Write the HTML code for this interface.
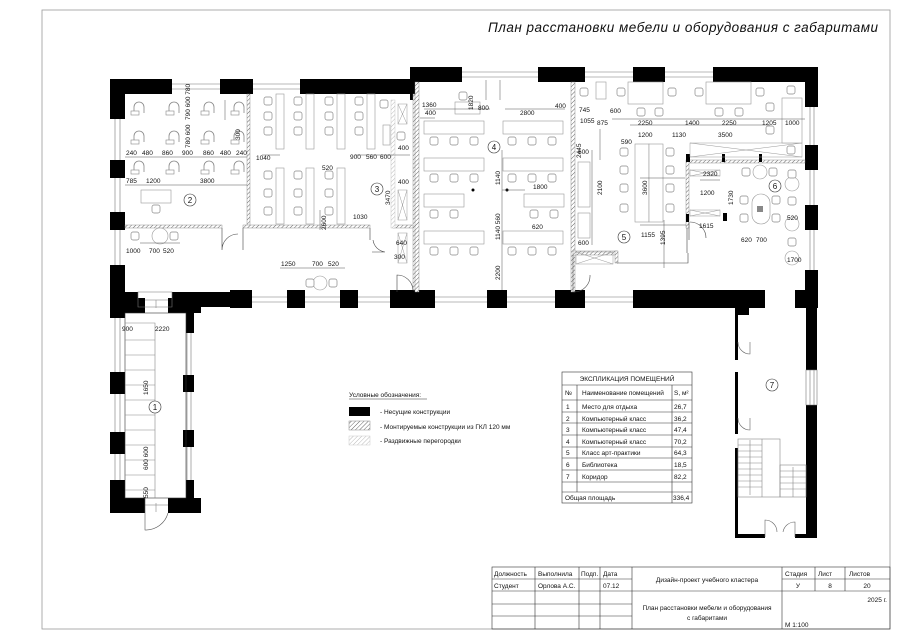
<!DOCTYPE html>
<html><head><meta charset="utf-8"><style>
html,body{margin:0;padding:0;background:#fff}
svg{display:block}
text{font-family:"Liberation Sans","DejaVu Sans",sans-serif;fill:#111}
.d{font-size:6.5px}
.t{font-size:6.5px}
</style></head><body>
<svg width="900" height="638" viewBox="0 0 900 638" xmlns="http://www.w3.org/2000/svg">
<defs>
<pattern id="h" width="3" height="3" patternUnits="userSpaceOnUse" patternTransform="rotate(45)">
<rect width="3" height="3" fill="#fff"/><line x1="0" y1="0" x2="0" y2="3" stroke="#666" stroke-width="1"/></pattern>
<pattern id="h2" width="3" height="3" patternUnits="userSpaceOnUse" patternTransform="rotate(45)">
<rect width="3" height="3" fill="#fff"/><line x1="0" y1="0" x2="0" y2="3" stroke="#bbb" stroke-width="1"/></pattern>
<g id="ch"><rect x="0" y="0" width="8" height="8" rx="2" fill="#fff" stroke="#888" stroke-width="0.7"/></g>
<g id="ac"><path d="M1 10 V4 A5 5 0 0 1 11 4 V10" fill="none" stroke="#888" stroke-width="0.8"/><rect x="-2" y="8" width="8" height="4" fill="#fff" stroke="#888" stroke-width="0.6"/></g>
</defs>

<rect x="42" y="10" width="848" height="619" fill="none" stroke="#999" stroke-width="0.8"/>
<text x="488" y="32" style="font-size:13.5px;font-style:italic" textLength="390">План расстановки мебели и оборудования с габаритами</text>

<g fill="#000">
<rect x="110" y="79" width="62" height="15"/>
<rect x="220" y="79" width="33" height="15"/>
<rect x="300" y="79" width="118" height="15"/>
<rect x="410" y="67" width="52" height="15"/>
<rect x="410" y="67" width="9" height="33"/>
<rect x="538" y="67" width="47" height="15"/>
<rect x="633" y="67" width="32" height="15"/>
<rect x="713" y="67" width="105" height="15"/>
<rect x="805" y="67" width="13" height="40"/>
<rect x="805" y="145" width="13" height="25"/>
<rect x="805" y="205" width="13" height="25"/>
<rect x="805" y="270" width="13" height="37"/>
<rect x="110" y="79" width="15" height="40"/>
<rect x="110" y="160" width="15" height="18"/>
<rect x="110" y="212" width="15" height="18"/>
<rect x="110" y="265" width="15" height="48"/>
<rect x="110" y="292" width="28" height="15"/>
<rect x="172" y="292" width="80" height="15"/>
<rect x="230" y="290" width="22" height="18"/>
<rect x="287" y="290" width="18" height="18"/>
<rect x="340" y="290" width="18" height="18"/>
<rect x="390" y="290" width="45" height="18"/>
<rect x="487" y="290" width="20" height="18"/>
<rect x="555" y="290" width="30" height="18"/>
<rect x="633" y="290" width="132" height="18"/>
<rect x="795" y="290" width="23" height="18"/>
<rect x="110" y="298" width="35" height="15"/>
<rect x="168" y="298" width="33" height="15"/>
<rect x="110" y="298" width="15" height="20"/>
<rect x="110" y="372" width="15" height="22"/>
<rect x="110" y="432" width="15" height="22"/>
<rect x="110" y="480" width="15" height="33"/>
<rect x="186" y="313" width="8" height="20"/>
<rect x="183" y="375" width="11" height="17"/>
<rect x="183" y="430" width="11" height="17"/>
<rect x="186" y="480" width="8" height="20"/>
<rect x="110" y="498" width="35" height="15"/>
<rect x="168" y="498" width="33" height="15"/>
<rect x="735" y="305" width="14" height="10"/>
<rect x="735" y="305" width="3" height="55"/>
<rect x="735" y="372" width="3" height="62"/>
<rect x="735" y="448" width="3" height="90"/>
<rect x="806" y="305" width="11" height="65"/>
<rect x="806" y="405" width="11" height="133"/>
<rect x="735" y="534" width="30" height="4"/>
<rect x="795" y="534" width="22" height="4"/>
</g>
<g stroke="#777" stroke-width="0.6" fill="none">
<path d="M172 84H220M172 89H220M253 84H300M253 89H300"/>
<path d="M462 72H538M462 77H538M585 72H633M585 77H633M665 72H713M665 77H713"/>
<path d="M810 107V145M814 107V145M810 170V205M814 170V205M810 230V270M814 230V270"/>
<path d="M115 119V160M120 119V160M115 178V212M120 178V212M115 230V265M120 230V265"/>
<path d="M252 297H287M252 302H287M305 297H340M305 302H340M358 297H390M358 302H390M435 297H487M435 302H487M507 297H555M507 302H555M585 297H633M585 302H633"/>
<path d="M115 318V372M120 318V372M115 394V432M120 394V432M115 454V480M120 454V480"/>
<path d="M187 333V375M191 333V375M187 392V430M191 392V430M187 447V480M191 447V480"/>
<path d="M806 370H817V405H806ZM810 370V405M814 370V405"/>
<path d="M138 292H172V307H138Z M145 300H168 M145 505H168"/>
</g>
<g stroke="#888" stroke-width="0.6" fill="none">
<rect x="125" y="313" width="61" height="185" stroke="#333"/>
<path d="M125 323H155V498M125 340H155M125 355H155M125 370H155M125 385H155M125 400H155M125 415H155M125 430H155M125 445H155M125 460H155M125 475H155M125 490H155"/>
<path d="M145 498V530A23 23 0 0 0 168 513" stroke="#555"/>
<path d="M156 300V308M156 503V512"/>
</g>
<g stroke="#888" stroke-width="0.6" fill="none">
<rect x="738" y="439" width="42" height="58"/>
<rect x="780" y="465" width="26" height="32"/>
<path d="M738 445H762M738 451H762M738 457H762M738 463H762M738 469H762M738 475H762M738 481H762M738 487H762M762 439V497M780 471H806M780 477H806M780 483H806M780 489H806M750 440V495M793 467V497"/>
<path d="M738 342A12 12 0 0 0 750 354V342M738 418A12 12 0 0 0 750 430V418M765 537V520A12 12 0 0 1 777 532M795 537V522A12 12 0 0 0 783 532" stroke="#666"/>
</g>

<g fill="url(#h)" stroke="#777" stroke-width="0.4">
<rect x="247" y="94" width="3" height="132"/>
<rect x="125" y="225" width="97" height="3"/>
<rect x="243" y="225" width="127" height="3"/>
<rect x="413" y="94" width="4" height="196"/>
<rect x="415" y="82" width="4" height="210"/>
<rect x="571" y="82" width="4" height="210"/>
<rect x="573" y="251" width="44" height="4"/>
<rect x="615" y="251" width="3" height="12"/>
<rect x="687" y="160" width="118" height="3"/>
<rect x="686" y="160" width="3" height="68"/>
<rect x="393" y="225" width="20" height="3"/>
</g>
<g fill="url(#h2)" stroke="#bbb" stroke-width="0.4">
<rect x="391" y="100" width="4" height="128"/>
</g>
<g fill="#000"><rect x="686" y="154" width="4" height="8"/><rect x="722" y="154" width="3" height="8"/><rect x="759" y="154" width="3" height="8"/><rect x="686" y="214" width="3" height="8"/><rect x="723" y="213" width="4" height="8"/></g>
<g stroke="#444" stroke-width="0.6" fill="none">
<path d="M617 263H688V253M687 228V253"/>
<path d="M222 228V250A16 16 0 0 1 238 234M243 228V250M370 228V240M373 240A14 14 0 0 0 385 252M372 252H385"/>
<path d="M397 292V275A16 16 0 0 1 413 290M573 255V292M574 292A16 16 0 0 0 590 275"/>
<path d="M689 222V240M690 222A16 16 0 0 1 706 238"/>
</g>
<g stroke="#999" stroke-width="0.5" fill="none">
<rect x="398" y="104" width="9" height="20"/><path d="M398 104L407 124M407 104L398 124"/>
<rect x="398" y="190" width="9" height="30"/><path d="M398 190L407 220M407 190L398 220"/>
<rect x="398" y="233" width="9" height="30"/><path d="M398 233L407 263M407 233L398 263"/>
<rect x="576" y="252" width="37" height="12"/><path d="M576 252L613 264M613 252L576 264"/>
<rect x="690" y="143" width="112" height="14"/><path d="M690 143L802 157M802 143L690 157"/>
<rect x="690" y="170" width="30" height="6"/><path d="M690 170L720 176M720 170L690 176"/>
<rect x="690" y="210" width="30" height="6"/><path d="M690 210L720 216M720 210L690 216"/>
</g>

<g>
<use href="#ac" x="133" y="103"/><use href="#ac" x="168" y="103"/><use href="#ac" x="203" y="103"/><use href="#ac" x="233" y="103"/>
<use href="#ac" x="133" y="132"/><use href="#ac" x="168" y="132"/><use href="#ac" x="203" y="132"/><use href="#ac" x="233" y="132"/>
<use href="#ac" x="133" y="162"/><use href="#ac" x="168" y="162"/><use href="#ac" x="203" y="162"/><use href="#ac" x="233" y="162"/>
</g>
<g fill="#fff" stroke="#999" stroke-width="0.6">
<rect x="141" y="190" width="30" height="13"/>
<rect x="276" y="94" width="8" height="55"/><rect x="306" y="94" width="8" height="55"/><rect x="337" y="94" width="8" height="55"/><rect x="367" y="94" width="8" height="55"/>
<rect x="276" y="168" width="8" height="56"/><rect x="306" y="168" width="8" height="56"/><rect x="337" y="168" width="8" height="56"/>
<rect x="383" y="125" width="7" height="20"/>
<rect x="455" y="102" width="25" height="12"/>
<rect x="424" y="121" width="60" height="13"/><rect x="503" y="121" width="60" height="13"/>
<rect x="424" y="158" width="60" height="13"/><rect x="503" y="158" width="60" height="13"/>
<rect x="424" y="194" width="40" height="13"/><rect x="524" y="194" width="40" height="13"/>
<rect x="424" y="231" width="60" height="13"/><rect x="503" y="231" width="60" height="13"/>
<rect x="578" y="162" width="12" height="45"/><rect x="578" y="213" width="12" height="25"/>
<rect x="596" y="82" width="10" height="17"/>
<rect x="628" y="82" width="35" height="22"/><rect x="706" y="82" width="45" height="22"/>
<rect x="635" y="144" width="14" height="78"/><rect x="649" y="144" width="14" height="78"/>
<rect x="782" y="98" width="20" height="45"/>
<rect x="752" y="194" width="18" height="30" rx="9"/>
</g>
<rect x="757" y="206" width="6" height="6" fill="#888"/>
<g fill="#fff" stroke="#999" stroke-width="0.6">
<circle cx="760" cy="172" r="7"/><circle cx="792" cy="184" r="7"/><circle cx="792" cy="224" r="7"/><circle cx="792" cy="258" r="7"/>
<circle cx="160" cy="236" r="8"/><circle cx="320" cy="283" r="7"/>
</g>
<g>
<use href="#ch" x="131" y="232"/><use href="#ch" x="170" y="232"/>
<use href="#ch" x="306" y="279"/><use href="#ch" x="329" y="279"/>
<use href="#ch" x="152" y="205"/>
<use href="#ch" x="264" y="97"/><use href="#ch" x="264" y="112"/><use href="#ch" x="264" y="127"/>
<use href="#ch" x="294" y="97"/><use href="#ch" x="294" y="112"/><use href="#ch" x="294" y="127"/>
<use href="#ch" x="325" y="97"/><use href="#ch" x="325" y="112"/><use href="#ch" x="325" y="127"/>
<use href="#ch" x="355" y="97"/><use href="#ch" x="355" y="112"/><use href="#ch" x="355" y="127"/>
<use href="#ch" x="264" y="171"/><use href="#ch" x="264" y="189"/><use href="#ch" x="264" y="207"/>
<use href="#ch" x="294" y="171"/><use href="#ch" x="294" y="189"/><use href="#ch" x="294" y="207"/>
<use href="#ch" x="325" y="171"/><use href="#ch" x="325" y="189"/><use href="#ch" x="325" y="207"/>
<use href="#ch" x="380" y="100"/><use href="#ch" x="397" y="132"/>
<use href="#ch" x="459" y="92"/>
<use href="#ch" x="430" y="137"/><use href="#ch" x="450" y="137"/><use href="#ch" x="470" y="137"/><use href="#ch" x="508" y="137"/><use href="#ch" x="528" y="137"/><use href="#ch" x="548" y="137"/>
<use href="#ch" x="430" y="174"/><use href="#ch" x="450" y="174"/><use href="#ch" x="470" y="174"/><use href="#ch" x="508" y="174"/><use href="#ch" x="528" y="174"/><use href="#ch" x="548" y="174"/>
<use href="#ch" x="430" y="210"/><use href="#ch" x="450" y="210"/><use href="#ch" x="530" y="210"/><use href="#ch" x="550" y="210"/>
<use href="#ch" x="430" y="247"/><use href="#ch" x="450" y="247"/><use href="#ch" x="470" y="247"/><use href="#ch" x="508" y="247"/><use href="#ch" x="528" y="247"/><use href="#ch" x="548" y="247"/>
<use href="#ch" x="580" y="88"/><use href="#ch" x="617" y="88"/><use href="#ch" x="668" y="88"/><use href="#ch" x="695" y="88"/><use href="#ch" x="756" y="88"/><use href="#ch" x="787" y="86"/>
<use href="#ch" x="637" y="108"/><use href="#ch" x="655" y="108"/><use href="#ch" x="715" y="108"/><use href="#ch" x="735" y="108"/>
<use href="#ch" x="766" y="103"/><use href="#ch" x="766" y="126"/><use href="#ch" x="787" y="146"/>
<use href="#ch" x="620" y="148"/><use href="#ch" x="620" y="166"/><use href="#ch" x="620" y="184"/><use href="#ch" x="620" y="204"/>
<use href="#ch" x="666" y="148"/><use href="#ch" x="666" y="166"/><use href="#ch" x="666" y="184"/><use href="#ch" x="666" y="204"/>
<use href="#ch" x="742" y="168"/><use href="#ch" x="769" y="168"/>
<use href="#ch" x="740" y="196"/><use href="#ch" x="740" y="214"/><use href="#ch" x="772" y="196"/><use href="#ch" x="772" y="214"/>
<use href="#ch" x="788" y="170"/><use href="#ch" x="788" y="197"/><use href="#ch" x="788" y="238"/>
</g>
<g fill="#000"><circle cx="473" cy="190" r="1.5"/><circle cx="507" cy="190" r="1.5"/></g>

<g stroke="#555" stroke-width="0.5" fill="none">
<path d="M125 157H247M125 185H247M262 155H280M355 155H410M320 210V230M140 243H180M280 268H345M612 119H805M630 125H770M600 129V160M640 178H685M640 225H686M592 150V245M664 220V268M700 180H720"/>
<path d="M424 109H490M505 109H565M420 118H435M486 80V100M500 80V100"/>
<path d="M502 190H525M502 150V290M225 100V120"/>
</g>
<g class="d">
<text x="126" y="155">240</text><text x="142" y="155">480</text><text x="162" y="155">860</text><text x="182" y="155">900</text><text x="203" y="155">860</text><text x="220" y="155">480</text><text x="236" y="155">240</text>
<text x="126" y="183">785</text><text x="146" y="183">1200</text><text x="200" y="183">3800</text>
<text x="126" y="253">1000</text><text x="149" y="253">700</text><text x="163" y="253">520</text>
<text x="256" y="160">1040</text><text x="350" y="159">900</text><text x="366" y="159">560</text><text x="380" y="159">600</text>
<text x="322" y="170">520</text><text x="353" y="219">1030</text><text x="281" y="266">1250</text><text x="312" y="266">700</text><text x="328" y="266">520</text>
<text x="398" y="150">400</text><text x="398" y="184">400</text><text x="396" y="245">640</text><text x="394" y="259">300</text>
<text x="422" y="107">1360</text><text x="425" y="115">400</text><text x="478" y="110">800</text><text x="520" y="115">2800</text><text x="555" y="108">400</text>
<text x="533" y="189">1800</text><text x="532" y="229">620</text>
<text x="579" y="112">745</text><text x="580" y="123">1055</text><text x="610" y="113">600</text>
<text x="597" y="125">875</text><text x="638" y="125">2250</text><text x="685" y="125">1400</text><text x="722" y="125">2250</text><text x="762" y="125">1205</text><text x="785" y="125">1000</text>
<text x="638" y="137">1200</text><text x="672" y="137">1130</text><text x="718" y="137">3500</text>
<text x="578" y="154">600</text><text x="578" y="245">600</text><text x="621" y="144">590</text>
<text x="641" y="237">1155</text><text x="703" y="176">2320</text><text x="700" y="195">1200</text><text x="699" y="228">1615</text>
<text x="741" y="242">620</text><text x="756" y="242">700</text><text x="787" y="220">520</text><text x="787" y="262">1700</text>
<text x="122" y="331">900</text><text x="155" y="331">2220</text>
</g>
<g class="d">
<text transform="translate(190 120) rotate(-90)">790 600 780</text>
<text transform="translate(190 148) rotate(-90)">780 600</text>
<text transform="translate(326 230) rotate(-90)">2600</text>
<text transform="translate(390 205) rotate(-90)">3470</text>
<text transform="translate(473 110) rotate(-90)">1820</text>
<text transform="translate(500 280) rotate(-90)">2200</text>
<text transform="translate(500 185) rotate(-90)">1140</text>
<text transform="translate(500 240) rotate(-90)">1140 560</text>
<text transform="translate(647 195) rotate(-90)">3600</text>
<text transform="translate(602 195) rotate(-90)">2100</text>
<text transform="translate(665 245) rotate(-90)">1395</text>
<text transform="translate(733 205) rotate(-90)">1730</text>
<text transform="translate(148 395) rotate(-90)">1650</text>
<text transform="translate(148 470) rotate(-90)">600 600</text>
<text transform="translate(148 498) rotate(-90)">550</text>
<text transform="translate(240 140) rotate(-90)">300</text>
<text transform="translate(581 158) rotate(-90)">2445</text>
</g>
<g fill="#fff" stroke="#333" stroke-width="0.6">
<circle cx="190" cy="200" r="6"/><circle cx="377" cy="189" r="6"/><circle cx="494" cy="147" r="6"/><circle cx="624" cy="237" r="6"/><circle cx="775" cy="186" r="6"/><circle cx="155" cy="407" r="6"/><circle cx="772" cy="385" r="6"/>
</g>
<g style="font-size:8px" text-anchor="middle">
<text x="190" y="203">2</text><text x="377" y="192">3</text><text x="494" y="150">4</text><text x="624" y="240">5</text><text x="775" y="189">6</text><text x="155" y="410">1</text><text x="772" y="388">7</text>
</g>

<text x="349" y="397" class="t">Условные обозначения:</text>
<line x1="349" y1="399" x2="427" y2="399" stroke="#333" stroke-width="0.5"/>
<rect x="349" y="407" width="21" height="9" fill="#000"/>
<rect x="349" y="421" width="21" height="9" fill="url(#h)" stroke="#888" stroke-width="0.5"/>
<rect x="349" y="436" width="21" height="9" fill="url(#h2)" stroke="#ccc" stroke-width="0.5"/>
<text x="380" y="414" class="t">- Несущие конструкции</text>
<text x="380" y="429" class="t">- Монтируемые конструкции из ГКЛ 120 мм</text>
<text x="380" y="443" class="t">- Раздвижные перегородки</text>

<g stroke="#333" stroke-width="0.6" fill="none">
<rect x="562" y="372" width="130" height="131"/>
<path d="M562 385H692M562 400H692M562 412H692M562 423H692M562 435H692M562 447H692M562 458H692M562 470H692M562 482H692M562 492H692"/>
<path d="M577 385V492M672 385V503"/>
</g>
<g class="t">
<text x="627" y="381" text-anchor="middle">ЭКСПЛИКАЦИЯ ПОМЕЩЕНИЙ</text>
<text x="565" y="395">№</text><text x="582" y="395">Наименование помещений</text><text x="674" y="395">S, м²</text>
<text x="566" y="409">1</text><text x="582" y="409">Место для отдыха</text><text x="674" y="409">26,7</text>
<text x="566" y="421">2</text><text x="582" y="421">Компьютерный класс</text><text x="674" y="421">36,2</text>
<text x="566" y="432">3</text><text x="582" y="432">Компьютерный класс</text><text x="674" y="432">47,4</text>
<text x="566" y="444">4</text><text x="582" y="444">Компьютерный класс</text><text x="674" y="444">70,2</text>
<text x="566" y="455">5</text><text x="582" y="455">Класс арт-практики</text><text x="674" y="455">64,3</text>
<text x="566" y="467">6</text><text x="582" y="467">Библиотека</text><text x="674" y="467">18,5</text>
<text x="566" y="479">7</text><text x="582" y="479">Коридор</text><text x="674" y="479">82,2</text>
<text x="565" y="500">Общая площадь</text><text x="673" y="500">336,4</text>
</g>

<g stroke="#333" stroke-width="0.6" fill="none">
<rect x="492" y="567" width="398" height="62"/>
<path d="M535 567V629M579 567V629M600 567V629M632 567V629M782 567V629M815 567V591M845 567V591"/>
<path d="M492 579H632M492 591H890M492 604H632M492 616H632M782 579H890M632 591H782"/>
</g>
<g class="t">
<text x="494" y="576">Должность</text><text x="538" y="576">Выполнила</text><text x="581" y="576">Подп.</text><text x="603" y="576">Дата</text>
<text x="494" y="588">Студент</text><text x="538" y="588">Орлова А.С.</text><text x="603" y="588">07.12</text>
<text x="707" y="582" text-anchor="middle">Дизайн-проект учебного кластера</text>
<text x="785" y="576">Стадия</text><text x="818" y="576">Лист</text><text x="849" y="576">Листов</text>
<text x="798" y="588" text-anchor="middle">У</text><text x="830" y="588" text-anchor="middle">8</text><text x="867" y="588" text-anchor="middle">20</text>
<text x="707" y="610" text-anchor="middle">План расстановки мебели и оборудования</text>
<text x="707" y="620" text-anchor="middle">с габаритами</text>
<text x="887" y="602" text-anchor="end">2025 г.</text>
<text x="785" y="627">М 1:100</text>
</g>
</svg>
</body></html>
